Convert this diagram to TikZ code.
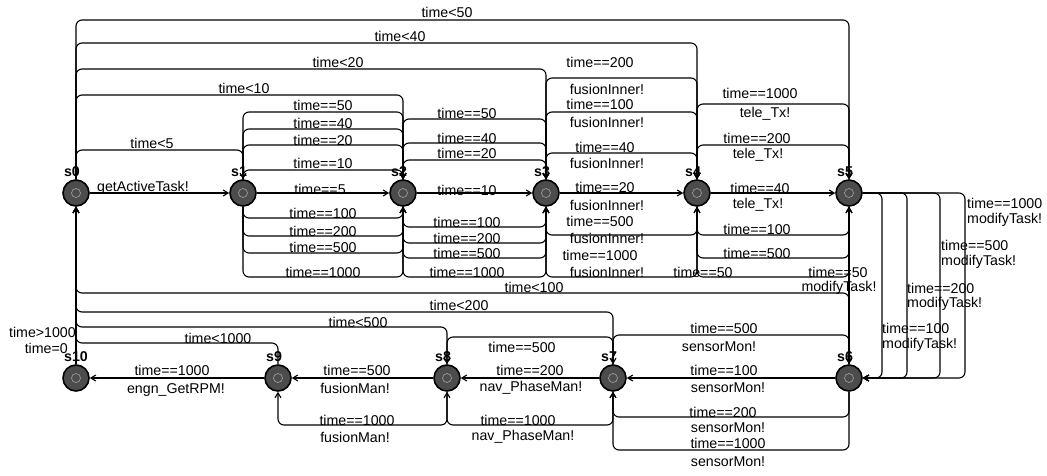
\documentclass[tikz,border=0pt]{standalone}
\usepackage{fontspec}
\setmainfont{Liberation Sans}
\usetikzlibrary{arrows.meta}
\begin{document}
\begin{tikzpicture}[x=1pt,y=-1pt,
  st/.style={circle, draw=black, line width=1.6pt, fill=black!70, minimum size=26pt, inner sep=0pt,
    path picture={\draw[black!40,line width=.7pt] (path picture bounding box.center) circle (4.5pt);}},
  edge/.style={line width=1.1pt, rounded corners=6pt, -{Straight Barb[length=5pt,width=6pt]}},
  lbl/.style={font=\fontsize{14.2}{15}\selectfont, inner sep=0pt},
  sl/.style={font=\fontsize{14.2}{15}\selectfont\bfseries, inner sep=0pt, label distance=2pt}
]
\useasboundingbox[fill=white] (0,0) rectangle (1047,475);
% states
\node[st, label={[sl, xshift=-4pt]above:s0}] (s0) at (76,193) {};
\node[st, label={[sl, xshift=-4pt]above:s1}] (s1) at (243,193) {};
\node[st, label={[sl, xshift=-4pt]above:s2}] (s2) at (403,193) {};
\node[st, label={[sl, xshift=-4pt]above:s3}] (s3) at (546,193) {};
\node[st, label={[sl, xshift=-4pt]above:s4}] (s4) at (697,193) {};
\node[st, label={[sl, xshift=-4pt]above:s5}] (s5) at (849,193) {};
\node[st, label={[sl, xshift=-4pt]above:s6}] (s6) at (849,378) {};
\node[st, label={[sl, xshift=-4pt]above:s7}] (s7) at (613,378) {};
\node[st, label={[sl, xshift=-4pt]above:s8}] (s8) at (447,378) {};
\node[st, label={[sl, xshift=-4pt]above:s9}] (s9) at (278,378) {};
\node[st, label={[sl]above:s10}] (s10) at (76,378) {};
% top loops from s0
\draw[edge] (s0.north) |- (s5 |- 0,20) -- (s5.north);
\draw[edge] (s0.north) |- (s4 |- 0,43) -- (s4.north);
\draw[edge] (s0.north) |- (s3 |- 0,69) -- (s3.north);
\draw[edge] (s0.north) |- (s2 |- 0,95) -- (s2.north);
\draw[edge] (s0.north) |- (s1 |- 0,150) -- (s1.north);
\draw[edge] (s0.east) -- (s1.west);
% s1 -> s2
\foreach \y in {112,129,145,170} \draw[edge] (s1.north) |- (s2 |- 0,\y) -- (s2.north);
\draw[edge] (s1.east) -- (s2.west);
\foreach \y in {218,236,253,277} \draw[edge] (s1.south) |- (s2 |- 0,\y) -- (s2.south);
% s2 -> s3
\foreach \y in {119,143,160} \draw[edge] (s2.north) |- (s3 |- 0,\y) -- (s3.north);
\draw[edge] (s2.east) -- (s3.west);
\foreach \y in {227,243,258,277} \draw[edge] (s2.south) |- (s3 |- 0,\y) -- (s3.south);
% s3 -> s4
\foreach \y in {78,112,153} \draw[edge] (s3.north) |- (s4 |- 0,\y) -- (s4.north);
\draw[edge] (s3.east) -- (s4.west);
\foreach \y in {235,277} \draw[edge] (s3.south) |- (s4 |- 0,\y) -- (s4.south);
% s4 -> s5
\foreach \y in {104,145} \draw[edge] (s4.north) |- (s5 |- 0,\y) -- (s5.north);
\draw[edge] (s4.east) -- (s5.west);
\foreach \y in {235,258,277} \draw[edge] (s4.south) |- (s5 |- 0,\y) -- (s5.south);
% s5 -> s6
\draw[edge] (s5.south) -- (s6.north);
\foreach \x in {882,907,940,965} \draw[edge] (s5.east) -| (\x,0 |- s6) -- (s6.east);
% s6 -> s7
\draw[edge] (s6.north) |- (s7 |- 0,335) -- (s7.north);
\draw[edge] (s6.west) -- (s7.east);
\foreach \y in {417,450} \draw[edge] (s6.south) |- (s7 |- 0,\y) -- (s7.south);
% s7 -> s8
\draw[edge] (s7.north) |- (s8 |- 0,337) -- (s8.north);
\draw[edge] (s7.west) -- (s8.east);
\draw[edge] (s7.south) |- (s8 |- 0,425) -- (s8.south);
% s8 -> s9
\draw[edge] (s8.west) -- (s9.east);
\draw[edge] (s8.south) |- (s9 |- 0,425) -- (s9.south);
% s9 -> s10
\draw[edge] (s9.west) -- (s10.east);
% back edges to s0
\draw[edge] (s6.north) |- (s0 |- 0,293) -- (s0.south);
\draw[edge] (s7.north) |- (s0 |- 0,312) -- (s0.south);
\draw[edge] (s8.north) |- (s0 |- 0,327) -- (s0.south);
\draw[edge] (s9.north) |- (s0 |- 0,343) -- (s0.south);
\draw[edge] (s10.north) -- (s0.south);
% labels: top loops
\node[lbl] (a1) at (447,12) {time<50};
\node[lbl] (a2) at (400,36) {time<40};
\node[lbl] (a3) at (338,62) {time<20};
\node[lbl] (a4) at (244,88) {time<10};
\node[lbl] (a5) at (152,143) {time<5};
\node[lbl, anchor=west] (a6) at (97,188) {getActiveTask!};
% s1 -> s2
\node[lbl] (b1) at (323,105) {time==50};
\node[lbl] (b2) at (323,123) {time==40};
\node[lbl] (b3) at (323,140) {time==20};
\node[lbl] (b4) at (323,163) {time==10};
\node[lbl] (b5) at (320,189) {time==5};
\node[lbl] (b6) at (323,213) {time==100};
\node[lbl] (b7) at (323,231) {time==200};
\node[lbl] (b8) at (323,247) {time==500};
\node[lbl] (b9) at (323,272) {time==1000};
% s2 -> s3
\node[lbl] (c1) at (467,113) {time==50};
\node[lbl] (c2) at (467,138) {time==40};
\node[lbl] (c3) at (467,153) {time==20};
\node[lbl] (c4) at (467,190) {time==10};
\node[lbl] (c5) at (467,222) {time==100};
\node[lbl] (c6) at (467,238) {time==200};
\node[lbl] (c7) at (467,253) {time==500};
\node[lbl] (c8) at (467,272) {time==1000};
% s3 -> s4
\node[lbl] (d1) at (600,62) {time==200};
\node[lbl] (d2) at (607,89) {fusionInner!};
\node[lbl] (d3) at (600,104) {time==100};
\node[lbl] (d4) at (607,122) {fusionInner!};
\node[lbl] (d5) at (605,147) {time==40};
\node[lbl] (d6) at (607,163) {fusionInner!};
\node[lbl] (d7) at (605,187) {time==20};
\node[lbl] (d8) at (607,205) {fusionInner!};
\node[lbl] (d9) at (600,221) {time==500};
\node[lbl] (d10) at (607,238) {fusionInner!};
\node[lbl] (d11) at (600,255) {time==1000};
\node[lbl] (d12) at (607,272) {fusionInner!};
% s4 -> s5
\node[lbl] (e1) at (760,93) {time==1000};
\node[lbl] (e2) at (765,114) {tele\_Tx!};
\node[lbl] (e3) at (757,138) {time==200};
\node[lbl] (e4) at (758,155) {tele\_Tx!};
\node[lbl] (e5) at (760,188) {time==40};
\node[lbl] (e6) at (758,205) {tele\_Tx!};
\node[lbl] (e7) at (757,229) {time==100};
\node[lbl] (e8) at (757,253) {time==500};
\node[lbl] (e9) at (703,272) {time==50};
% s5 -> s6
\node[lbl] (f1) at (838,272) {time==50};
\node[lbl] (f2) at (839,288) {modifyTask!};
\node[lbl, anchor=west] (f3) at (967,203) {time==1000};
\node[lbl, anchor=west] (f4) at (967,220) {modifyTask!};
\node[lbl, anchor=west] (f5) at (941,245) {time==500};
\node[lbl, anchor=west] (f6) at (941,262) {modifyTask!};
\node[lbl, anchor=west] (f7) at (907,288) {time==200};
\node[lbl, anchor=west] (f8) at (907,304) {modifyTask!};
\node[lbl, anchor=west] (f9) at (882,328) {time==100};
\node[lbl, anchor=west] (f10) at (882,345) {modifyTask!};
% back edges
\node[lbl] (g1) at (534,287) {time<100};
\node[lbl] (g2) at (459,305) {time<200};
\node[lbl] (g3) at (358,322) {time<500};
\node[lbl] (g4) at (218,338) {time<1000};
\node[lbl, anchor=east] (g5) at (76,332) {time>1000};
\node[lbl, anchor=east] (g6) at (68,348) {time=0};
% s6 -> s7
\node[lbl] (h1) at (724,328) {time==500};
\node[lbl] (h2) at (719,347) {sensorMon!};
\node[lbl] (h3) at (724,370) {time==100};
\node[lbl] (h4) at (728,388) {sensorMon!};
\node[lbl] (h5) at (723,412) {time==200};
\node[lbl] (h6) at (728,428) {sensorMon!};
\node[lbl] (h7) at (728,443) {time==1000};
\node[lbl] (h8) at (728,462) {sensorMon!};
% s7 -> s8
\node[lbl] (i1) at (522,347) {time==500};
\node[lbl] (i2) at (530,370) {time==200};
\node[lbl] (i3) at (531,388) {nav\_PhaseMan!};
\node[lbl] (i4) at (518,420) {time==1000};
\node[lbl] (i5) at (523,437) {nav\_PhaseMan!};
% s8 -> s9
\node[lbl] (j1) at (357,370) {time==500};
\node[lbl] (j2) at (355,388) {fusionMan!};
\node[lbl] (j3) at (357,420) {time==1000};
\node[lbl] (j4) at (355,437) {fusionMan!};
% s9 -> s10
\node[lbl] (k1) at (172,370) {time==1000};
\node[lbl] (k2) at (176,390) {engn\_GetRPM!};
\end{tikzpicture}
\end{document}
